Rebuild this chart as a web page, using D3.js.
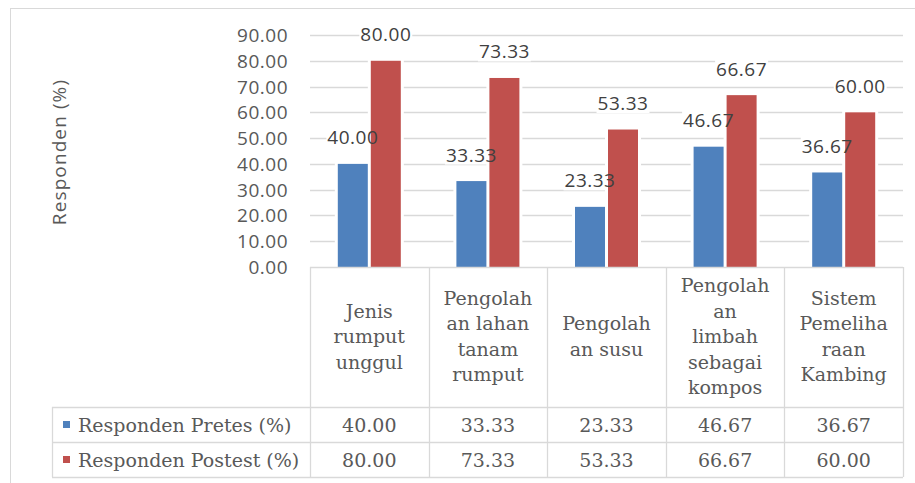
<!doctype html>
<html>
<head>
<meta charset="utf-8">
<title>Responden Pretes / Postest</title>
<script src="https://cdn.jsdelivr.net/npm/d3@7"></script>
<style>
  body { margin: 0; background: #fff; }
  svg { display: block; }
</style>
</head>
<body>
<div id="chart"></div>
<script>
// data
const categories = [
  "Jenis\nrumput\nunggul",
  "Pengolah\nan lahan\ntanam\nrumput",
  "Pengolah\nan susu",
  "Pengolah\nan\nlimbah\nsebagai\nkompos",
  "Sistem\nPemeliha\nraan\nKambing"
];
const seriesNames = ["Responden Pretes (%)", "Responden Postest (%)"];
const pretes = [40.00, 33.33, 23.33, 46.67, 36.67];
const postest = [80.00, 73.33, 53.33, 66.67, 60.00];
const yTicks = [0, 10, 20, 30, 40, 50, 60, 70, 80, 90];
const colors = ["#4f81bd", "#c0504d"];

const W = 915, H = 483;
const plotL = 310, plotR = 903, plotT = 35, base = 267;
const headBottom = 407, rowH = 35, legendLeft = 52;
const lineH = 25.5;
const grid = "#d9d9d9";
const sans = "'Open Sans', sans-serif";
const serif = "'DejaVu Serif', serif";

const series = [pretes, postest];

const svg = d3.select("#chart").append("svg")
  .attr("width", W).attr("height", H);

// outer chart frame
svg.append("rect")
  .attr("x", 10.5).attr("y", 8.5)
  .attr("width", W).attr("height", H)
  .attr("fill", "#fff").attr("stroke", grid);

const x = d3.scaleBand().domain(d3.range(categories.length)).range([plotL, plotR]);
const y = d3.scaleLinear().domain([0, 90]).range([base, plotT]);
const inner = d3.scaleBand().domain([0, 1])
  .range([(x.bandwidth() - 66) / 2, (x.bandwidth() + 66) / 2]);
const barW = 30;

// gridlines
svg.append("g").selectAll("line").data(yTicks.slice(1)).join("line")
  .attr("x1", plotL).attr("x2", plotR)
  .attr("y1", d => Math.round(y(d)) + 0.5).attr("y2", d => Math.round(y(d)) + 0.5)
  .attr("stroke", grid).attr("stroke-width", 1.3);

// y tick labels
svg.append("g").selectAll("text").data(yTicks).join("text")
  .attr("x", 288).attr("y", d => y(d) + 7)
  .attr("text-anchor", "end")
  .style("font-family", sans).style("font-size", "19px")
  .style("letter-spacing", "0.5px")
  .attr("fill", "#595959")
  .text(d => d3.format(".2f")(d));

// y axis title
svg.append("text")
  .attr("transform", "translate(66,152) rotate(-90)")
  .attr("text-anchor", "middle")
  .style("font-family", sans).style("font-size", "19px")
  .style("letter-spacing", "1.1px")
  .attr("fill", "#595959")
  .text("Responden (%)");

const flat = [];
series.forEach((vals, s) => vals.forEach((v, i) => flat.push({ s, i, v })));
const cx = d => x(d.i) + inner(d.s) + inner.bandwidth() / 2;

// label backgrounds go under the bars, label text over them
const labelBg = svg.append("g");
const barG = svg.append("g");
const labelG = svg.append("g");

barG.selectAll("rect.halo").data(flat).join("rect")
  .attr("class", "halo")
  .attr("x", d => cx(d) - barW / 2 - 3).attr("y", d => y(d.v) - 3)
  .attr("width", barW + 6).attr("height", d => base - y(d.v) + 3)
  .attr("fill", "#fff");
barG.selectAll("rect.bar").data(flat).join("rect")
  .attr("class", "bar")
  .attr("x", d => cx(d) - barW / 2).attr("y", d => y(d.v))
  .attr("width", barW).attr("height", d => base - y(d.v))
  .attr("fill", d => colors[d.s]);

labelG.selectAll("text").data(flat).join("text")
  .attr("x", cx).attr("y", d => y(d.v) - 19.5)
  .attr("text-anchor", "middle")
  .style("font-family", sans).style("font-size", "19px")
  .style("letter-spacing", "0.5px")
  .attr("fill", "#404040")
  .text(d => d3.format(".2f")(d.v))
  .each(function () {
    const b = this.getBBox();
    labelBg.append("rect")
      .attr("x", b.x - 1).attr("y", b.y + 3)
      .attr("width", b.width + 2).attr("height", b.height - 6)
      .attr("fill", "#fff");
  });

// data table
const tbl = svg.append("g").attr("fill", "none").attr("stroke", grid).attr("stroke-width", 1.3);
const rowsBottom = headBottom + rowH * series.length;
tbl.append("line").attr("x1", plotL).attr("x2", plotR).attr("y1", base + 0.5).attr("y2", base + 0.5);
d3.range(series.length + 1).forEach(r => {
  const yy = headBottom + r * rowH + 0.5;
  tbl.append("line").attr("x1", legendLeft).attr("x2", plotR).attr("y1", yy).attr("y2", yy);
});
tbl.selectAll("line.v").data(d3.range(categories.length + 1)).join("line")
  .attr("class", "v")
  .attr("x1", d => Math.round(d < categories.length ? x(d) : plotR) + 0.5)
  .attr("x2", d => Math.round(d < categories.length ? x(d) : plotR) + 0.5)
  .attr("y1", base).attr("y2", rowsBottom);
tbl.append("line").attr("x1", legendLeft + 0.5).attr("x2", legendLeft + 0.5)
  .attr("y1", headBottom).attr("y2", rowsBottom);

// category header text
const headMid = (base + headBottom) / 2 + 6;
categories.forEach((c, i) => {
  const lines = c.split("\n");
  const t = svg.append("text")
    .attr("text-anchor", "middle")
    .style("font-family", serif).style("font-size", "19px")
    .attr("fill", "#595959");
  lines.forEach((ln, k) => {
    t.append("tspan")
      .attr("x", x(i) + x.bandwidth() / 2)
      .attr("y", headMid - (lines.length - 1) / 2 * lineH + k * lineH)
      .text(ln);
  });
});

// value rows and legend keys
series.forEach((vals, s) => {
  const mid = headBottom + s * rowH + rowH / 2;
  svg.append("rect")
    .attr("x", 63).attr("y", mid - 3.5)
    .attr("width", 7).attr("height", 7)
    .attr("fill", colors[s]);
  svg.append("text")
    .attr("x", 78).attr("y", mid + 7)
    .style("font-family", serif).style("font-size", "19px")
    .attr("fill", "#595959")
    .text(seriesNames[s]);
  svg.append("g").selectAll("text").data(vals).join("text")
    .attr("x", (d, i) => x(i) + x.bandwidth() / 2)
    .attr("y", mid + 7)
    .attr("text-anchor", "middle")
    .style("font-family", serif).style("font-size", "19px")
    .attr("fill", "#595959")
    .text(d => d3.format(".2f")(d));
});
</script>
</body>
</html>
